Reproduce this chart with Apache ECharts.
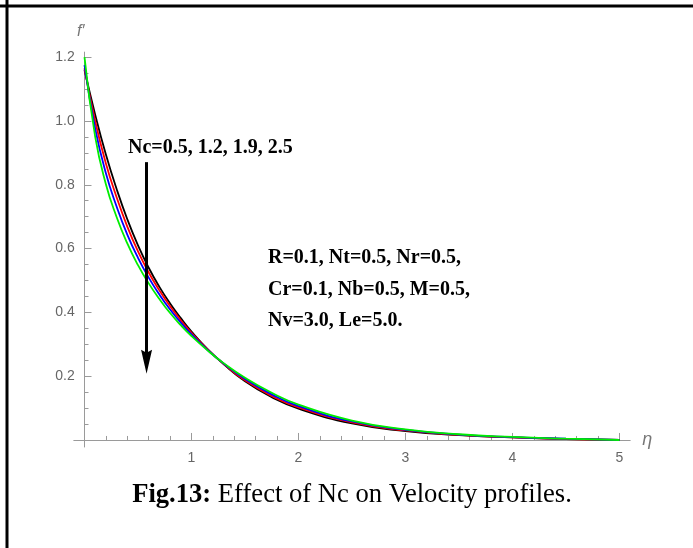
<!DOCTYPE html>
<html>
<head>
<meta charset="utf-8">
<title>Fig.13</title>
<script src="https://cdn.jsdelivr.net/npm/echarts@6/dist/echarts.min.js"></script>
<style>
  html, body { margin: 0; padding: 0; background: #fff; }
  #chart { width: 693px; height: 548px; }
</style>
</head>
<body>
<div id="chart"></div>
<script>
  // η 取样点
  const eta = [0, 0.1, 0.2, 0.3, 0.4, 0.5, 0.6, 0.7, 0.8, 0.9, 1.0, 1.15, 1.3, 1.5, 1.75, 2.0, 2.5, 3.0, 3.5, 4.0, 4.5, 5.0]
  const ncValues = ['0.5', '1.2', '1.9', '2.5']
  // f' 曲线, Nc = 0.5 / 1.2 / 1.9 / 2.5
  const fNc05 = [1.16, 1.02, 0.895, 0.787, 0.692, 0.61, 0.54, 0.48, 0.428, 0.382, 0.34, 0.285, 0.238, 0.184, 0.134, 0.098, 0.052, 0.028, 0.015, 0.008, 0.003, 0]
  const fNc12 = [1.165, 0.999, 0.867, 0.761, 0.669, 0.591, 0.525, 0.469, 0.419, 0.375, 0.336, 0.284, 0.239, 0.187, 0.138, 0.102, 0.055, 0.030, 0.016, 0.008, 0.003, 0]
  const fNc19 = [1.175, 0.976, 0.836, 0.732, 0.644, 0.571, 0.509, 0.456, 0.409, 0.368, 0.331, 0.282, 0.240, 0.191, 0.143, 0.106, 0.058, 0.0315, 0.017, 0.009, 0.004, 0]
  const fNc25 = [1.20, 0.95, 0.802, 0.699, 0.616, 0.548, 0.491, 0.442, 0.398, 0.36, 0.326, 0.281, 0.241, 0.195, 0.148, 0.111, 0.061, 0.0335, 0.018, 0.0095, 0.004, 0]
  // 刻度
  const xMajorTicks = [1, 2, 3, 4, 5]
  const xMinorTicks = [0.2, 0.4, 0.6, 0.8, 1.2, 1.4, 1.6, 1.8, 2.2, 2.4, 2.6, 2.8, 3.2, 3.4, 3.6, 3.8, 4.2, 4.4, 4.6, 4.8]
  const yMajorTicks = [0.2, 0.4, 0.6, 0.8, 1.0, 1.2]
  const yMinorTicks = [0.05, 0.1, 0.15, 0.25, 0.3, 0.35, 0.45, 0.5, 0.55, 0.65, 0.7, 0.75, 0.85, 0.9, 0.95, 1.05, 1.1, 1.15]
  // 箭头 (η, 起点 f', 终点 f')
  const arrowEta = 0.58
  const arrowFrom = 0.871
  const arrowTo = 0.245

  const paramLines = ['R=0.1, Nt=0.5, Nr=0.5,', 'Cr=0.1, Nb=0.5, M=0.5,', 'Nv=3.0, Le=5.0.']

  const axisGray = '#9a9a9a'
  const labelGray = '#666'
  const sans = '"Liberation Sans", Arial, sans-serif'
  const serif = '"Liberation Serif", "Times New Roman", serif'
  const hidden = 'rgba(0,0,0,0)'

  const chart = echarts.init(document.getElementById('chart'))

  function pairs(ys) {
    return eta.map((x, i) => [x, ys[i]])
  }

  function curve(name, ys, color) {
    return {
      name: name,
      type: 'line',
      data: pairs(ys),
      showSymbol: false,
      symbol: 'none',
      smooth: 0.5,
      lineStyle: { color: color, width: 1.8 },
      itemStyle: { color: color },
      emphasis: { disabled: true }
    }
  }

  const seriesList = [
    curve('Nc=' + ncValues[0], fNc05, '#000000'),
    curve('Nc=' + ncValues[1], fNc12, '#ff0000'),
    curve('Nc=' + ncValues[2], fNc19, '#0000ff'),
    curve('Nc=' + ncValues[3], fNc25, '#00ee00')
  ]
  // 箭头
  seriesList[0].markLine = {
    silent: true,
    animation: false,
    symbol: ['none', 'none'],
    label: { show: false },
    emphasis: { disabled: true },
    lineStyle: { color: '#000', width: 3, type: 'solid' },
    data: [[
      { coord: [arrowEta, arrowFrom], symbol: 'none' },
      { coord: [arrowEta, arrowTo], symbol: 'path://M5.5,0 L11,24 L5.5,21 L0,24 Z', symbolSize: [11, 24] }
    ]]
  }

  const textLine = (x, y, text) => ({
    type: 'text', x: x, y: y, silent: true,
    style: { text: text, fill: '#000', fontSize: 20, fontWeight: 'bold', fontFamily: serif, verticalAlign: 'middle' }
  })

  const option = {
    animation: false,
    backgroundColor: '#fff',
    grid: { left: 73.8, right: 62.8, top: 52.1, bottom: 101, containLabel: false },
    xAxis: [{
      type: 'value',
      min: -0.1,
      max: 5.1,
      position: 'bottom',
      name: 'η',
      nameLocation: 'end',
      nameGap: 12,
      nameTextStyle: { color: '#777', fontSize: 18, fontStyle: 'italic', fontFamily: sans, verticalAlign: 'middle', padding: [6, 0, 0, 0] },
      axisLine: { show: true, onZero: true, onZeroAxisIndex: 0, lineStyle: { color: axisGray, width: 1 } },
      axisTick: { show: true, inside: true, length: 7, customValues: xMajorTicks, lineStyle: { color: axisGray } },
      axisLabel: { show: true, customValues: xMajorTicks, margin: 4, color: labelGray, fontSize: 14, fontFamily: sans },
      splitLine: { show: false }
    }, {
      type: 'value',
      min: -0.1,
      max: 5.1,
      position: 'bottom',
      axisLine: { show: true, onZero: true, onZeroAxisIndex: 0, lineStyle: { color: hidden } },
      axisTick: { show: true, inside: true, length: 4, customValues: xMinorTicks, lineStyle: { color: axisGray } },
      axisLabel: { show: false },
      splitLine: { show: false }
    }],
    yAxis: [{
      type: 'value',
      min: -0.022,
      max: 1.216,
      position: 'left',
      name: 'f\u2032',
      nameLocation: 'end',
      nameGap: 13,
      nameTextStyle: { color: '#777', fontSize: 16, fontStyle: 'italic', fontFamily: sans, align: 'right', padding: [0, 0, 0, 0] },
      axisLine: { show: true, onZero: true, onZeroAxisIndex: 0, lineStyle: { color: axisGray, width: 1 } },
      axisTick: { show: true, inside: true, length: 7, customValues: yMajorTicks, lineStyle: { color: axisGray } },
      axisLabel: {
        show: true,
        customValues: yMajorTicks,
        margin: -1,
        color: labelGray,
        fontSize: 14,
        fontFamily: sans,
        formatter: v => v.toFixed(1)
      },
      splitLine: { show: false }
    }, {
      type: 'value',
      min: -0.022,
      max: 1.216,
      position: 'left',
      axisLine: { show: true, onZero: true, onZeroAxisIndex: 0, lineStyle: { color: hidden } },
      axisTick: { show: true, inside: true, length: 4, customValues: yMinorTicks, lineStyle: { color: axisGray } },
      axisLabel: { show: false },
      splitLine: { show: false }
    }],
    series: seriesList,
    graphic: [
      { type: 'line', silent: true, shape: { x1: 0, y1: 6, x2: 693, y2: 6 }, style: { stroke: '#000', lineWidth: 3 } },
      { type: 'line', silent: true, shape: { x1: 7, y1: 0, x2: 7, y2: 548 }, style: { stroke: '#000', lineWidth: 3 } },
      textLine(128, 148, 'Nc=' + ncValues.join(', ')),
      textLine(268, 258, paramLines[0]),
      textLine(268, 290, paramLines[1]),
      textLine(268, 321, paramLines[2]),
      {
        type: 'text', x: 352, y: 495, silent: true,
        style: {
          text: '{b|Fig.13:} Effect of Nc on Velocity profiles.',
          fill: '#000',
          fontSize: 26.6,
          fontFamily: serif,
          align: 'center',
          verticalAlign: 'middle',
          rich: { b: { fontSize: 26.6, fontWeight: 'bold', fontFamily: serif, fill: '#000' } }
        }
      }
    ]
  }
  chart.setOption(option)
  window.addEventListener('resize', () => chart.resize())
</script>
</body>
</html>
